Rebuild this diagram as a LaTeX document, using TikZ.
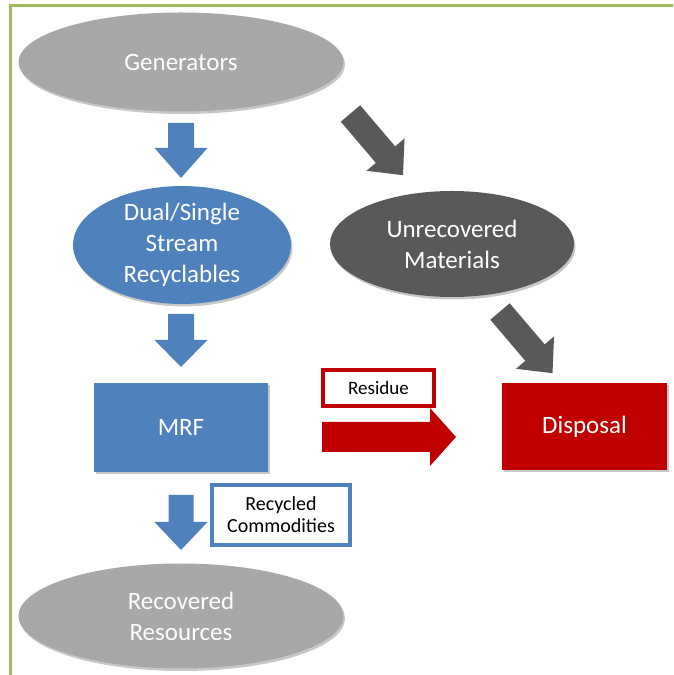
\documentclass[tikz,border=0pt]{standalone}
\usepackage{fontspec}
\setmainfont{Carlito}
\usetikzlibrary{shapes.geometric,shadows}
\definecolor{frameg}{HTML}{9BBB59}
\definecolor{lgray}{HTML}{A9A7A7}
\definecolor{dgray}{HTML}{595959}
\definecolor{bluef}{HTML}{4F81BD}
\definecolor{redf}{HTML}{C00000}
\tikzset{
  shad/.style={drop shadow={shadow xshift=1.5pt,shadow yshift=-2.5pt,opacity=0.22,fill=black}},
  big/.style={font=\fontsize{25}{31}\selectfont, text=white, align=center, inner sep=0pt},
  oval/.style={ellipse, big, shad},
  block/.style={rectangle, big, shad},
  tag/.style={rectangle, fill=white, line width=3.5pt, text=black, align=center, inner sep=0pt},
  pics/blockarrow/.style n args={5}{code={
    \fill[#1] (0,-#3) -- (#2-#5,-#3) -- (#2-#5,-#4) -- (#2,0) -- (#2-#5,#4) -- (#2-#5,#3) -- (0,#3) -- cycle;
  }}
}
\begin{document}
\begin{tikzpicture}[x=1pt,y=1pt]
\useasboundingbox (0,0) rectangle (673,675);
\begin{scope}
\clip (0,0) rectangle (673,675);
\draw[frameg, line width=2.6pt] (10.5,-10) -- (10.5,669.5) -- (690,669.5);
\end{scope}

% nodes
\node[oval, fill=lgray, minimum width=325, minimum height=99] (gen) at (181,613) {Generators};
\node[oval, fill=bluef, minimum width=218, minimum height=108] (dual) at (182,430) {Dual/Single\\Stream\\Recyclables};
\node[oval, fill=dgray, minimum width=244, minimum height=106] (unrec) at (452,431) {Unrecovered\\Materials};
\node[block, fill=bluef, minimum width=174, minimum height=89] (mrf) at (181,247.5) {MRF};
\node[block, fill=redf, minimum width=165, minimum height=87] (disp) at (584.5,248.5) {Disposal};
\node[oval, fill=lgray, minimum width=325, minimum height=105] (recov) at (181,59) {Recovered\\Resources};

% block arrows
\coordinate (a1) at (181,552);
\coordinate (a2) at (181,361);
\coordinate (a3) at (181,180);
\coordinate (g1) at (350.5,561.5);
\coordinate (g2) at (500,363.5);
\coordinate (r1) at (322,238);
\pic[rotate=-90] at (a1) {blockarrow={bluef}{55}{13}{26.5}{30}};
\pic[rotate=-90] at (a2) {blockarrow={bluef}{53}{13}{26.5}{27}};
\pic[rotate=-90] at (a3) {blockarrow={bluef}{55}{12.5}{26.5}{28}};
\pic[rotate=-49.6] at (g1) {blockarrow={dgray}{81}{12.7}{25}{27}};
\pic[rotate=-49.6] at (g2) {blockarrow={dgray}{81}{12.7}{25}{27}};
\pic at (r1) {blockarrow={redf}{134}{15}{29}{26}};

% labels
\node[tag, draw=redf, minimum width=111, minimum height=36, font=\fontsize{19}{23}\selectfont] (res) at (378.5,287) {Residue};
\node[tag, draw=bluef, minimum width=138, minimum height=60, font=\fontsize{20}{22}\selectfont] (rc) at (281,160) {Recycled\\Commodities};
\end{tikzpicture}
\end{document}
